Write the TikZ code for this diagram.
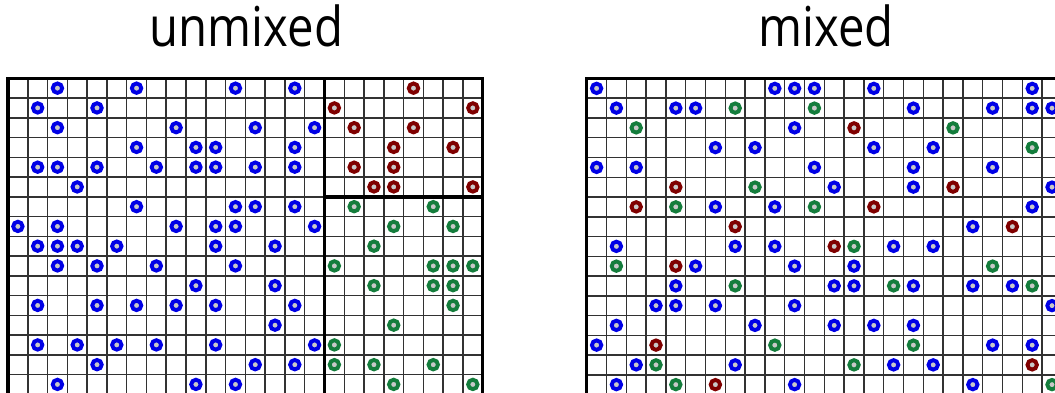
\documentclass[tikz,border=0pt]{standalone}
\usepackage{fontspec}
\newfontfamily\titlefont[FakeStretch=0.86]{Open Sans}

\definecolor{agblue}{RGB}{0,0,230}
\definecolor{agred}{RGB}{128,0,0}
\definecolor{aggreen}{RGB}{20,125,60}
\definecolor{agcore}{RGB}{200,200,200}
\definecolor{cellgray}{RGB}{50,50,50}

\begin{document}
\begin{tikzpicture}[
  x=1pt, y=-1pt,
  title/.style   ={font=\titlefont\fontsize{55}{60}\selectfont,
                   anchor=base, inner sep=0pt},
  cell/.style    ={draw=cellgray, line width=1.5pt},
  wall/.style    ={draw=black, line width=3.4pt},
  agent/.style   ={line width=3.9pt, fill=agcore},
  blueag/.style  ={agent, draw=agblue},
  redag/.style   ={agent, draw=agred},
  greenag/.style ={agent, draw=aggreen}
]

\useasboundingbox (0,0) rectangle (1055,393);
\clip (0,0) rectangle (1055,393);

% ---------- Titles ----------
\node[title] (ttl-unmixed) at (246.5,46.7) {unmixed};
\node[title] (ttl-mixed)   at (826,46.7)   {mixed};

% ---------- Unmixed board ----------
\begin{scope}[shift={(8,78.3)}, x=19.78pt, y=-19.75pt]
  \foreach \i in {0,...,24} \draw[cell] (\i,0) -- (\i,16.5);
  \foreach \j in {0,...,16} \draw[cell] (0,\j) -- (24,\j);
  \draw[wall] (0,16.5) -- (0,0) -- (24,0) -- (24,16.5);
  \draw[wall] (16,0) -- (16,16.5);
  \draw[wall] (16,6) -- (24,6);

  \foreach \r/\cols in {0/{2,6,11,14}, 1/{1,4}, 2/{2,8,12,15}, 3/{6,9,10,14},
                        4/{1,2,4,7,9,10,12,14}, 5/{3}, 6/{6,11,12,14},
                        7/{0,2,8,10,11,15}, 8/{1,2,3,5,10,13}, 9/{2,4,7,11},
                        10/{9,13}, 11/{1,4,6,8,10,14}, 12/{13},
                        13/{1,3,5,7,10,15}, 14/{4,12,14}, 15/{2,9,11}}
    \foreach \c in \cols \draw[blueag] (\c+0.5,\r+0.5) circle[radius=4.7pt];

  \foreach \r/\cols in {0/{20}, 1/{16,23}, 2/{17,20}, 3/{19,22}, 4/{17,19},
                        5/{18,19,23}}
    \foreach \c in \cols \draw[redag] (\c+0.5,\r+0.5) circle[radius=4.7pt];

  \foreach \r/\cols in {6/{17,21}, 7/{19,22}, 8/{18}, 9/{16,21,22,23},
                        10/{18,21,22}, 11/{22}, 12/{19}, 13/{16},
                        14/{16,18,21}, 15/{19,23}}
    \foreach \c in \cols \draw[greenag] (\c+0.5,\r+0.5) circle[radius=4.7pt];
\end{scope}

% ---------- Mixed board ----------
\begin{scope}[shift={(586.7,78.5)}, x=19.8pt, y=-19.75pt]
  \foreach \i in {0,...,24} \draw[cell] (\i,0) -- (\i,16.5);
  \foreach \j in {0,...,16} \draw[cell] (0,\j) -- (24,\j);
  \draw[wall] (0,16.5) -- (0,0) -- (24,0) -- (24,16.5);

  \foreach \r/\cols in {0/{0,9,10,11,14,22}, 1/{1,4,5,16,20,22,23}, 2/{10},
                        3/{6,8,14,17}, 4/{0,2,11,16,20}, 5/{12,16,23},
                        6/{6,9,22}, 7/{19}, 8/{1,7,9,15,17}, 9/{5,10,13},
                        10/{4,12,13,16,19,21}, 11/{3,4,6,10,23},
                        12/{1,8,12,14,16}, 13/{0,20,22}, 14/{2,7,15,17},
                        15/{1,10,19}}
    \foreach \c in \cols \draw[blueag] (\c+0.5,\r+0.5) circle[radius=4.7pt];

  \foreach \r/\cols in {2/{13}, 5/{4,18}, 6/{2,14}, 7/{7,21}, 8/{12}, 9/{4},
                        13/{3}, 14/{22}, 15/{6}}
    \foreach \c in \cols \draw[redag] (\c+0.5,\r+0.5) circle[radius=4.7pt];

  \foreach \r/\cols in {1/{7,11}, 2/{2,18}, 3/{22}, 5/{8}, 6/{4,11}, 8/{13},
                        9/{1,20}, 10/{7,15,22}, 13/{9,16}, 14/{3,13},
                        15/{4,23}}
    \foreach \c in \cols \draw[greenag] (\c+0.5,\r+0.5) circle[radius=4.7pt];
\end{scope}

\end{tikzpicture}
\end{document}
